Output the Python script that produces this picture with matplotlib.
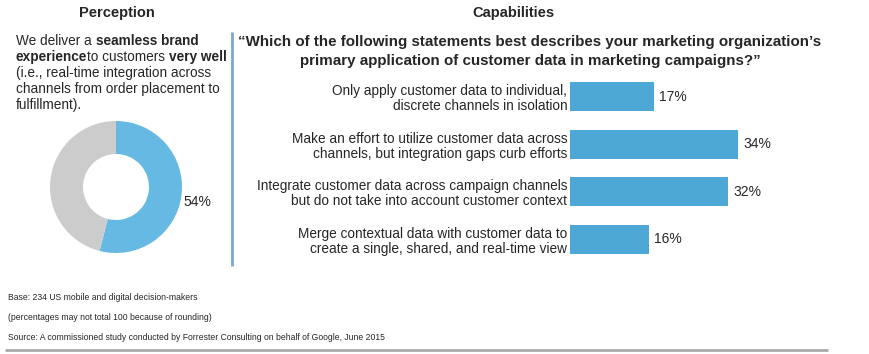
import matplotlib.pyplot as plt

W, H = 870, 354

# data
pie_labels = ['Very well', 'Other']
pie_values = [54, 46]

statements = [
    'Only apply customer data to individual,\ndiscrete channels in isolation',
    'Make an effort to utilize customer data across\nchannels, but integration gaps curb efforts',
    'Integrate customer data across campaign channels\nbut do not take into account customer context',
    'Merge contextual data with customer data to\ncreate a single, shared, and real-time view',
]
shares = [17, 34, 32, 16]

footnotes = [
    'Base: 234 US mobile and digital decision-makers',
    '(percentages may not total 100 because of rounding)',
    'Source: A commissioned study conducted by Forrester Consulting on behalf of Google, June 2015',
]

TEXT = '#262626'
BAR_BLUE = '#4da8d6'
PIE_BLUE = '#66b9e2'
PIE_GREY = '#cccccc'

plt.rcParams['font.family'] = ['Liberation Sans', 'DejaVu Sans']

fig = plt.figure(figsize=(W / 100, H / 100), dpi=100)


def px_axes(x0, y0, w, h):
    return fig.add_axes([x0 / W, 1 - (y0 + h) / H, w / W, h / H])


ov = px_axes(0, 0, W, H)
ov.set_xlim(0, W)
ov.set_ylim(H, 0)
ov.axis('off')

# headings
ov.text(117, 13, 'Perception', ha='center', va='center', fontsize=10.5,
        fontweight='bold', color=TEXT)
ov.text(513, 13, 'Capabilities', ha='center', va='center', fontsize=10.5,
        fontweight='bold', color=TEXT)

# left description with bold runs
left_lines = [
    [('We deliver a ', 'normal'), ('seamless brand', 'bold')],
    [('experience', 'bold'), ('to customers ', 'normal'), ('very well', 'bold')],
    [('(i.e., real-time integration across', 'normal')],
    [('channels from order placement to', 'normal')],
    [('fulfillment).', 'normal')],
]
y = 45
for runs in left_lines:
    prev = None
    for s, wt in runs:
        if prev is None:
            prev = ov.text(16, y, s, ha='left', va='baseline', fontsize=9.8,
                           fontweight=wt, color=TEXT)
        else:
            prev = ov.annotate(s, xy=(1, 0), xycoords=prev, ha='left',
                               va='bottom', fontsize=9.8, fontweight=wt,
                               color=TEXT)
    y += 16

# donut
pax = px_axes(116 - 66, 187 - 66, 132, 132)
pax.pie(pie_values, colors=[PIE_BLUE, PIE_GREY], startangle=90,
        counterclock=False, radius=1, wedgeprops=dict(width=0.5))
pax.set_xlim(-1, 1)
pax.set_ylim(-1, 1)
pax.set_aspect('equal')
pax.axis('off')
ov.text(183, 202, f'{pie_values[0]}%', ha='left', va='center', fontsize=10,
        color=TEXT)

# divider
ov.plot([232, 232], [32, 266], color='#7aa7d4', lw=2, solid_capstyle='butt')

# question
ov.text(530, 42, '\u201cWhich of the following statements best describes your marketing organization\u2019s',
        ha='center', va='center', fontsize=10.9, fontweight='bold', color=TEXT)
ov.text(530, 61, 'primary application of customer data in marketing campaigns?\u201d',
        ha='center', va='center', fontsize=10.9, fontweight='bold', color=TEXT)

# bars
bax = px_axes(570, 73, 247.5, 190)
ypos = list(range(len(shares)))
bax.barh(ypos, shares, height=0.62, color=BAR_BLUE)
bax.set_xlim(0, 50)
bax.set_ylim(len(shares) - 0.5, -0.5)
bax.set_yticks(ypos)
bax.set_yticklabels(statements, fontsize=9.8, color=TEXT, linespacing=1.1)
bax.tick_params(axis='y', length=0, pad=2)
bax.set_xticks([])
for sp in bax.spines.values():
    sp.set_visible(False)
bax.patch.set_alpha(0)
for i, v in enumerate(shares):
    bax.text(v + 1, i, f'{v}%', ha='left', va='center', fontsize=10,
             color=TEXT)

# footnotes
for i, s in enumerate(footnotes):
    ov.text(8, 297 + 20 * i, s, ha='left', va='center', fontsize=6.2,
            color=TEXT)
ov.plot([5, 828], [350, 350], color='#aaaaaa', lw=2, solid_capstyle='butt')

fig.savefig('out.png', dpi=100)
